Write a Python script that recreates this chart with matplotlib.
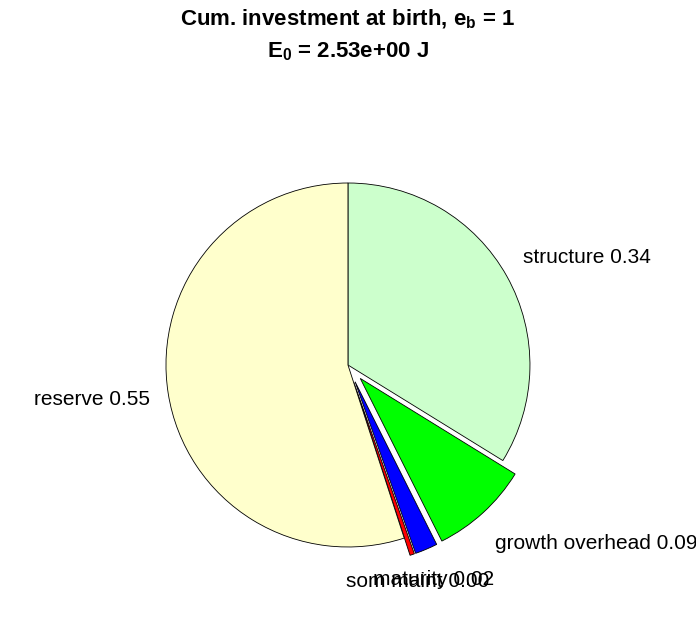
import matplotlib
matplotlib.use('Agg')
import matplotlib.pyplot as plt

# energy investment fractions at birth
names = ['structure', 'growth overhead', 'maturity', 'som maint', 'reserve']
fractions = [0.338, 0.088, 0.020, 0.004, 0.550]
explode = [0, 0.1, 0.1, 0.1, 0]
slice_colors = ['#CCFFCC', '#00FF00', '#0000FF', '#FF0000', '#FFFFCC']

e_b = 1
E_0 = 2.53

plt.rcParams['font.family'] = ['Liberation Sans', 'DejaVu Sans']
plt.rcParams['mathtext.fontset'] = 'custom'
plt.rcParams['mathtext.rm'] = 'Liberation Sans:bold'
plt.rcParams['mathtext.it'] = 'Liberation Sans:bold'
plt.rcParams['mathtext.bf'] = 'Liberation Sans:bold'

labels = ['%s %.2f' % (n, f) for n, f in zip(names, fractions)]

fig = plt.figure(figsize=(6.96, 6.18), dpi=100)
ax = fig.add_axes([0.1731, 0.0413, 0.6537, 0.7362])

wedges, texts = ax.pie(fractions, explode=explode, labels=labels, colors=slice_colors,
                       startangle=90, counterclock=False, labeldistance=1.1,
                       wedgeprops={'edgecolor': 'black', 'linewidth': 0.6},
                       textprops={'fontsize': 15})

# alignment like the original pie labels (small vertical nudges)
aligns = [('left', 'bottom', 0), ('left', 'top', -0.045), ('center', 'top', -0.02),
          ('center', 'top', 0), ('right', 'center', -0.015)]
for t, (ha, va, dy) in zip(texts, aligns):
    t.set_ha(ha)
    t.set_va(va)
    x, y = t.get_position()
    t.set_position((x, y + dy))

ax.set_xlim(-1.25, 1.25)
ax.set_ylim(-1.25, 1.25)
ax.set_aspect('equal')
ax.axis('off')

fig.text(0.5, 0.969, r'Cum. investment at birth, e$_\mathregular{b}$ = %d' % e_b,
         ha='center', va='center', fontsize=16, fontweight='bold')
fig.text(0.5, 0.917, r'E$_\mathregular{0}$ = %.2e J' % E_0,
         ha='center', va='center', fontsize=16, fontweight='bold')

fig.savefig('out.png', dpi=100)
